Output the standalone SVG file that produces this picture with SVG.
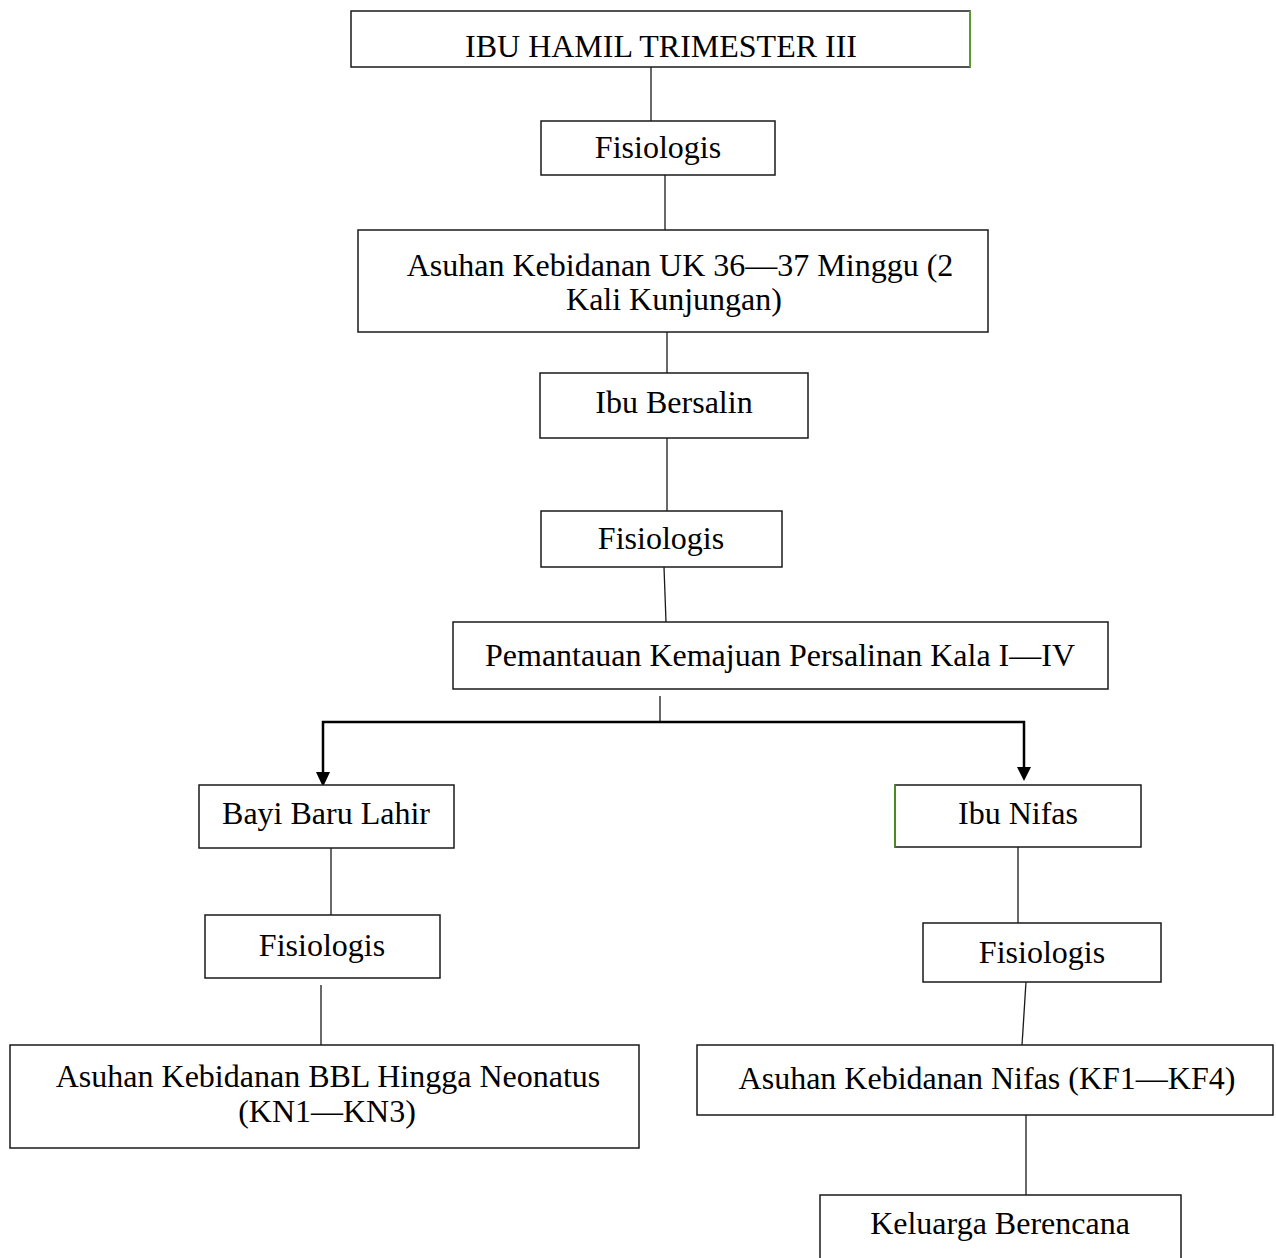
<svg xmlns="http://www.w3.org/2000/svg" width="1276" height="1258" viewBox="0 0 1276 1258">
<defs>
<style>
.box{fill:#fff;stroke:#1a1a1a;stroke-width:1.5}
.t{font-family:"Liberation Serif","Times New Roman",serif;font-size:32px;fill:#000;text-anchor:middle}
.c{stroke:#1a1a1a;stroke-width:1.3;fill:none}
.a{stroke:#000;stroke-width:2.5;fill:none}
</style>
</defs>
<rect width="1276" height="1258" fill="#fff"/>
<g id="connectors">
<line class="c" x1="651" y1="67" x2="651" y2="121"/>
<line class="c" x1="665" y1="175" x2="665" y2="230"/>
<line class="c" x1="667" y1="332" x2="667" y2="373"/>
<line class="c" x1="667" y1="438" x2="667" y2="511"/>
<line class="c" x1="664" y1="567" x2="666" y2="622"/>
<line class="c" x1="660" y1="696" x2="660" y2="723"/>
<polyline class="a" points="1024,774 1024,722 323,722 323,776"/>
<path d="M316,772 L330,772 L323,787 z" fill="#000"/>
<path d="M1017,767 L1031,767 L1024,781 z" fill="#000"/>
<line class="c" x1="331" y1="848" x2="331" y2="915"/>
<line class="c" x1="321" y1="985" x2="321" y2="1045"/>
<line class="c" x1="1018" y1="847" x2="1018" y2="923"/>
<line class="c" x1="1026" y1="982" x2="1022" y2="1045"/>
<line class="c" x1="1026" y1="1115" x2="1026" y2="1195"/>
</g>
<g id="n1"><rect class="box" x="351" y="11" width="619" height="56"/><line x1="970" y1="11" x2="970" y2="67" stroke="#5a9a30" stroke-width="2"/><text class="t" x="661" y="57">IBU HAMIL TRIMESTER III</text></g>
<g id="n2"><rect class="box" x="541" y="121" width="234" height="54"/><text class="t" x="658" y="158">Fisiologis</text></g>
<g id="n3"><rect class="box" x="358" y="230" width="630" height="102"/><text class="t" x="680" y="276">Asuhan Kebidanan UK 36—37 Minggu (2</text><text class="t" x="674" y="310">Kali Kunjungan)</text></g>
<g id="n4"><rect class="box" x="540" y="373" width="268" height="65"/><text class="t" x="674" y="413">Ibu Bersalin</text></g>
<g id="n5"><rect class="box" x="541" y="511" width="241" height="56"/><text class="t" x="661" y="549">Fisiologis</text></g>
<g id="n6"><rect class="box" x="453" y="622" width="655" height="67"/><text class="t" x="780" y="666">Pemantauan Kemajuan Persalinan Kala I—IV</text></g>
<g id="n7"><rect class="box" x="199" y="785" width="255" height="63"/><text class="t" x="326" y="824">Bayi Baru Lahir</text></g>
<g id="n8"><rect class="box" x="895" y="785" width="246" height="62"/><line x1="895" y1="785" x2="895" y2="847" stroke="#4a8a20" stroke-width="2"/><text class="t" x="1018" y="824">Ibu Nifas</text></g>
<g id="n9"><rect class="box" x="205" y="915" width="235" height="63"/><text class="t" x="322" y="956">Fisiologis</text></g>
<g id="n10"><rect class="box" x="10" y="1045" width="629" height="103"/><text class="t" x="328" y="1087">Asuhan Kebidanan BBL Hingga Neonatus</text><text class="t" x="327" y="1122">(KN1—KN3)</text></g>
<g id="n11"><rect class="box" x="923" y="923" width="238" height="59"/><text class="t" x="1042" y="963">Fisiologis</text></g>
<g id="n12"><rect class="box" x="697" y="1045" width="576" height="70"/><text class="t" x="987" y="1089">Asuhan Kebidanan Nifas (KF1—KF4)</text></g>
<g id="n13"><rect class="box" x="820" y="1195" width="361" height="80"/><text class="t" x="1000" y="1234">Keluarga Berencana</text></g>
</svg>
